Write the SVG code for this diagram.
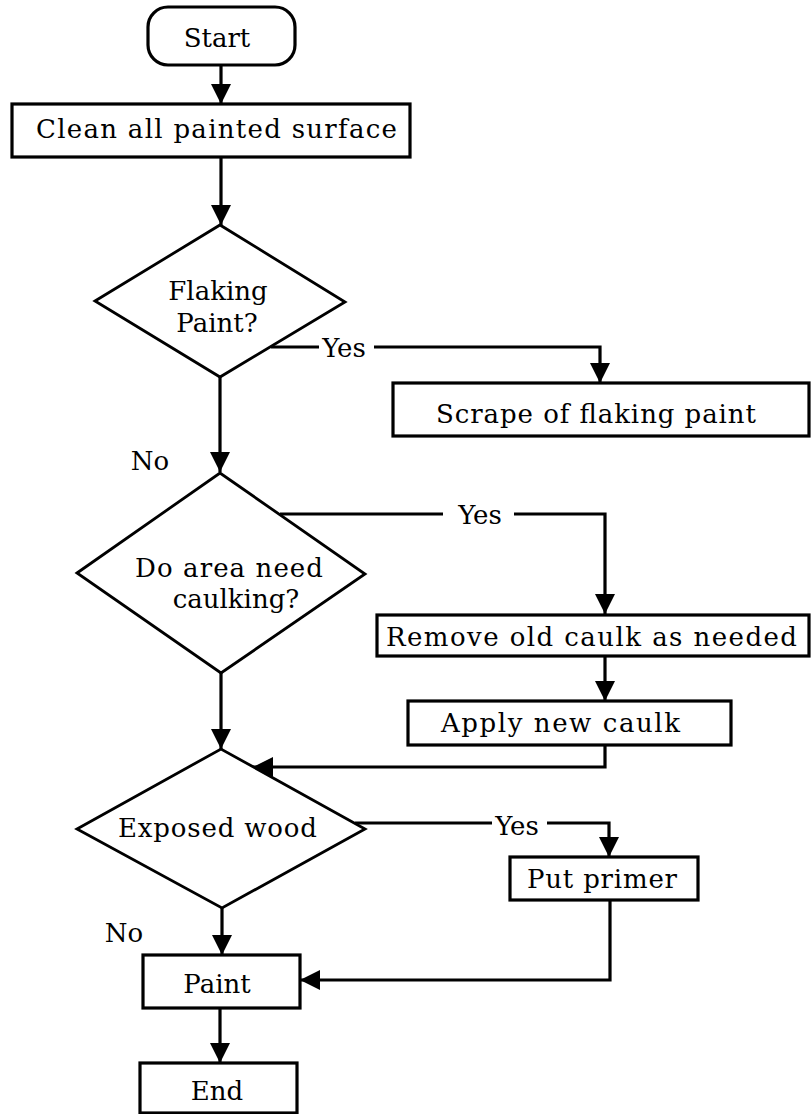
<svg xmlns="http://www.w3.org/2000/svg" width="812" height="1114" viewBox="0 0 812 1114">
<style>
  .box{fill:#fff;stroke:#000;stroke-width:3.2}
  .dia{fill:#fff;stroke:#000;stroke-width:2.8}
  .t{font-family:"DejaVu Serif","Liberation Serif",serif;font-size:26px;fill:#000}
  .m{text-anchor:middle}
  .c{fill:none;stroke:#000;stroke-width:3.2}
  .a{marker-end:url(#ah)}
</style>
<defs>
  <marker id="ah" markerUnits="userSpaceOnUse" markerWidth="24" markerHeight="24" viewBox="0 0 24 24" refX="20" refY="12" orient="auto">
    <path d="M0 2 L20 12 L0 22 Z" fill="#000"/>
  </marker>
</defs>
<rect width="812" height="1114" fill="#fff"/>
<g id="connectors">
  <path class="c a" d="M221 65 V104"/>
  <path class="c a" d="M221 157 V225"/>
  <path class="c" d="M271 347 H319"/>
  <path class="c a" d="M374 347 H600 V383"/>
  <path class="c a" d="M220 377 V472"/>
  <path class="c" d="M280 514 H443"/>
  <path class="c a" d="M514 514 H605 V614"/>
  <path class="c a" d="M605 656 V701"/>
  <path class="c a" d="M605 745 V767 H253"/>
  <path class="c a" d="M221 673 V749"/>
  <path class="c" d="M355 823 H492"/>
  <path class="c a" d="M547 823 H609 V857"/>
  <path class="c a" d="M610 900 V980 H300"/>
  <path class="c a" d="M222 908 V955"/>
  <path class="c a" d="M220 1008 V1063"/>
  <text class="t m" x="344" y="357">Yes</text>
  <text class="t m" x="150" y="470">No</text>
  <text class="t m" x="480" y="524">Yes</text>
  <text class="t m" x="517" y="835">Yes</text>
  <text class="t m" x="124" y="942">No</text>
</g>
<g id="start">
  <rect class="box" x="148" y="7" width="147" height="58" rx="20"/>
  <text class="t m" x="217" y="47">Start</text>
</g>
<g id="clean">
  <rect class="box" x="12" y="104" width="398" height="53"/>
  <text class="t" x="36" y="138" textLength="361">Clean all painted surface</text>
</g>
<g id="flaking">
  <polygon class="dia" points="95,301 220,225 345,302 220,377"/>
  <text class="t m" x="218" y="300">Flaking</text>
  <text class="t m" x="217" y="332">Paint?</text>
</g>
<g id="scrape">
  <rect class="box" x="393" y="383" width="416" height="53"/>
  <text class="t" x="436" y="423" textLength="320">Scrape of flaking paint</text>
</g>
<g id="caulking">
  <polygon class="dia" points="77,573 220,473 365,574 221,673"/>
  <text class="t" x="135" y="577" textLength="188">Do area need</text>
  <text class="t m" x="236" y="608">caulking?</text>
</g>
<g id="remove">
  <rect class="box" x="377" y="615" width="432" height="41"/>
  <text class="t" x="386" y="646" textLength="411">Remove old caulk as needed</text>
</g>
<g id="apply">
  <rect class="box" x="408" y="701" width="323" height="44"/>
  <text class="t" x="441" y="732" textLength="239">Apply new caulk</text>
</g>
<g id="exposed">
  <polygon class="dia" points="77,829 221,749 365,829 222,908"/>
  <text class="t" x="118" y="837" textLength="199">Exposed wood</text>
</g>
<g id="primer">
  <rect class="box" x="510" y="857" width="188" height="43"/>
  <text class="t" x="527" y="888" textLength="150">Put primer</text>
</g>
<g id="paint">
  <rect class="box" x="143" y="955" width="157" height="53"/>
  <text class="t m" x="217" y="993">Paint</text>
</g>
<g id="end">
  <rect class="box" x="140" y="1063" width="157" height="50"/>
  <text class="t m" x="217" y="1100">End</text>
</g>
</svg>
